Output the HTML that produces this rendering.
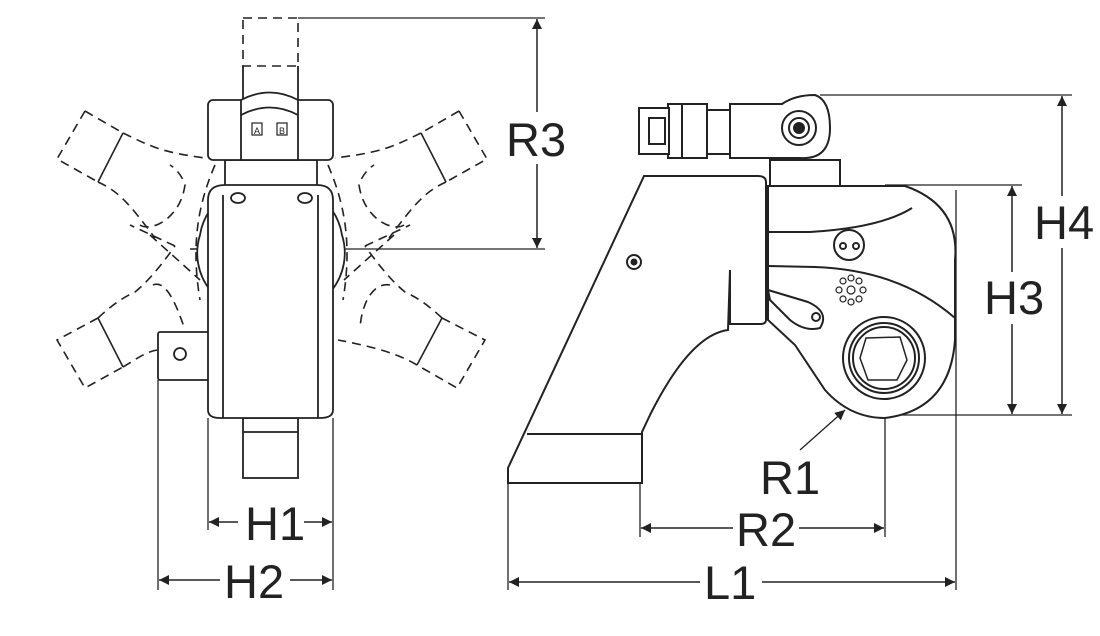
<!DOCTYPE html>
<html><head><meta charset="utf-8"><style>
html,body{margin:0;padding:0;background:#fff;}
svg{display:block}
text{font-family:"Liberation Sans",Arial,sans-serif;font-size:47px;fill:#222}
</style></head><body>
<svg width="1100" height="636" viewBox="0 0 1100 636" xmlns="http://www.w3.org/2000/svg">
<defs>
<marker id="a" viewBox="0 0 10 10" refX="10" refY="5" markerWidth="12" markerHeight="10" markerUnits="userSpaceOnUse" orient="auto-start-reverse"><path d="M0,0 L10,5 L0,10 z" fill="#222"/></marker>
</defs>
<g fill="none" stroke="#222" stroke-width="1.3">
<line x1="298" y1="18" x2="545" y2="18"/>
<line x1="345" y1="249" x2="545" y2="249"/>
<line x1="820" y1="95" x2="1072" y2="95"/>
<line x1="885" y1="185" x2="1022" y2="185"/>
<line x1="885" y1="415" x2="1072" y2="415"/>
<line x1="158" y1="380" x2="158" y2="590"/>
<line x1="208" y1="418" x2="208" y2="530"/>
<line x1="333" y1="418" x2="333" y2="590"/>
<line x1="508" y1="483" x2="508" y2="590"/>
<line x1="640" y1="483" x2="640" y2="537"/>
<line x1="885" y1="330" x2="885" y2="537"/>
<line x1="956" y1="190" x2="956" y2="590"/>
</g>
<g fill="none" stroke="#222" stroke-width="1.5" marker-start="url(#a)" marker-end="url(#a)">
<line x1="537" y1="19" x2="537" y2="248"/>
<line x1="1062" y1="96" x2="1062" y2="414"/>
<line x1="1012" y1="186" x2="1012" y2="414"/>
<line x1="209" y1="522" x2="332" y2="522"/>
<line x1="159" y1="580" x2="332" y2="580"/>
<line x1="641" y1="528" x2="884" y2="528"/>
<line x1="509" y1="582" x2="955" y2="582"/>
</g>
<g fill="#fff" stroke="none">
<rect x="505" y="112" width="64" height="52"/>
<rect x="1033" y="196" width="64" height="52"/>
<rect x="983" y="272" width="60" height="52"/>
<rect x="238" y="500" width="66" height="44"/>
<rect x="220" y="558" width="70" height="44"/>
<rect x="733" y="506" width="66" height="44"/>
<rect x="700" y="560" width="62" height="44"/>
</g>
<line x1="800" y1="450" x2="845" y2="410" stroke="#222" stroke-width="1.3" marker-end="url(#a)"/>
<text x="506" y="156">R3</text>
<text x="1034" y="239">H4</text>
<text x="984" y="314">H3</text>
<text x="245" y="540">H1</text>
<text x="224" y="598">H2</text>
<text x="736" y="546">R2</text>
<text x="704" y="599">L1</text>
<text x="760" y="494">R1</text>

<!-- LEFT VIEW -->
<g fill="none" stroke="#222" stroke-width="1.6" stroke-dasharray="9 6">
<rect x="243" y="18" width="55" height="48"/>
<path d="M85,111 L57,159 L98,182 M85,111 L123,133"/>
<path d="M123,133 C150,146 160,152 205,158"/>
<path d="M98,182 C120,192 130,205 155,238 M140,225 C150,232 180,220 185,185 C182,175 175,168 170,165"/>
<path d="M459,111 L487,159 L446,182 M459,111 L421,133"/>
<path d="M421,133 C394,146 384,152 335,158"/>
<path d="M446,182 C424,192 414,205 389,238 M404,225 C394,232 364,220 359,185 C362,175 369,168 374,165"/>
<path d="M98,318 L57,340 L85,388 L123,367"/>
<path d="M98,318 C112,305 122,298 135,292 C150,280 165,260 175,246"/>
<path d="M123,367 C135,360 145,352 157,350"/>
<path d="M153,285 C165,280 175,300 185,330"/>
<path d="M442,318 L485,340 L457,388 L417,365"/>
<path d="M442,318 C428,305 418,298 405,292 C390,280 375,260 365,246"/>
<path d="M417,365 C400,355 380,348 338,340"/>
<path d="M390,285 C375,282 362,300 360,328"/>
<path d="M215,165 C200,200 190,240 200,300 M328,165 C343,200 353,240 343,300"/>
<path d="M150,235 L200,280 M394,235 L344,280 M175,246 L130,225 M365,246 L410,225"/>
<line x1="190" y1="249" x2="345" y2="249" stroke-dasharray="7 5"/>
<line x1="271" y1="170" x2="271" y2="330" stroke-dasharray="7 5"/>
</g>
<g stroke="#222" stroke-width="1.6">
<line x1="123" y1="133" x2="98" y2="182"/>
<line x1="421" y1="133" x2="446" y2="182"/>
<line x1="98" y1="318" x2="123" y2="367"/>
<line x1="442" y1="318" x2="417" y2="365"/>
</g>
<g fill="#fff" stroke="#222" stroke-width="1.8">
<line x1="243" y1="66" x2="243" y2="100"/><line x1="298" y1="66" x2="298" y2="100"/>
<path d="M200,235 A60,60 0 0 1 210,210 L210,290 A60,60 0 0 1 200,235z"/>
<path d="M342,235 A60,60 0 0 0 332,210 L332,290 A60,60 0 0 0 342,235z"/>
<rect x="158" y="332" width="52" height="48" rx="2"/>
<circle cx="180" cy="354" r="6"/>
<rect x="243" y="418" width="55" height="60"/>
<line x1="243" y1="432" x2="298" y2="432"/>
<rect x="225" y="160" width="92" height="28"/>
<path d="M208,200 Q208,185 225,185 L317,185 Q333,185 333,200 L333,410 Q333,418 320,418 L220,418 Q208,418 208,410z"/>
<line x1="223" y1="195" x2="223" y2="418"/><line x1="318" y1="195" x2="318" y2="418"/>
<ellipse cx="238" cy="198" rx="7" ry="5"/><ellipse cx="305" cy="198" rx="7" ry="5"/>
<rect x="208" y="100" width="125" height="60" rx="5"/>
<path d="M241,100 L241,160 L298,160 L298,100 Q270,85 241,100z"/>
<path d="M241,115 Q270,100 298,115" fill="none"/>
<rect x="252" y="123" width="10" height="12" stroke-width="1.2"/>
<rect x="277" y="123" width="10" height="12" stroke-width="1.2"/>
</g>
<text x="254" y="134" style="font-size:9px">A</text><text x="279" y="134" style="font-size:9px">B</text>

<!-- RIGHT VIEW -->
<g fill="#fff" stroke="#222" stroke-width="2">
<path d="M768,186 L905,186 Q960,205 955,260 L955,340 Q950,410 885,418 Q850,418 825,390 L795,345 L768,320z"/>
<path d="M768,232 L810,232 Q880,228 912,208" fill="none"/>
<path d="M768,266 L815,267 Q900,270 955,318" fill="none"/>
<circle cx="849" cy="245" r="15"/><circle cx="843" cy="246" r="3"/><circle cx="856" cy="246" r="3"/>
<g stroke-width="1.2"><circle cx="851" cy="290" r="4"/><circle cx="851" cy="278" r="3"/><circle cx="851" cy="302" r="3"/><circle cx="839" cy="290" r="3"/><circle cx="863" cy="290" r="3"/><circle cx="843" cy="281" r="3"/><circle cx="859" cy="281" r="3"/><circle cx="843" cy="299" r="3"/><circle cx="859" cy="299" r="3"/></g>
<path d="M768,290 L808,302 Q830,312 820,328 Q805,332 790,320 L770,300z"/>
<circle cx="816" cy="317" r="4"/>
<circle cx="884" cy="358" r="41"/><circle cx="884" cy="358" r="35"/><circle cx="884" cy="358" r="31"/>
<path d="M866,338 L900,337 L907,360 L897,380 L868,380 L860,358z" stroke-width="1.5"/>
<path d="M644,176 L758,176 Q766,176 766,182 L766,320 Q766,324 760,324 L730,324 L730,270 L728,330 Q690,335 650,415 L642,432 L642,483 L508,483 L508,468 L644,176z"/>
<line x1="527" y1="434" x2="642" y2="434"/>
<circle cx="634" cy="262" r="7"/><circle cx="634" cy="262" r="2.5" fill="#222"/>
<rect x="770" y="160" width="70" height="26"/>
<path d="M730,104 L782,104 Q795,95 815,95 Q830,100 830,128 Q830,160 800,158 L730,158z"/>
<circle cx="799" cy="128" r="17"/><circle cx="799" cy="128" r="10"/><circle cx="799" cy="128" r="5" fill="#222"/>
<rect x="707" y="110" width="23" height="44"/>
<rect x="680" y="104" width="27" height="54"/>
<rect x="668" y="104" width="14" height="54"/>
<rect x="639" y="108" width="30" height="46"/>
<rect x="649" y="118" width="16" height="26"/>
</g>
</svg>
</body></html>
